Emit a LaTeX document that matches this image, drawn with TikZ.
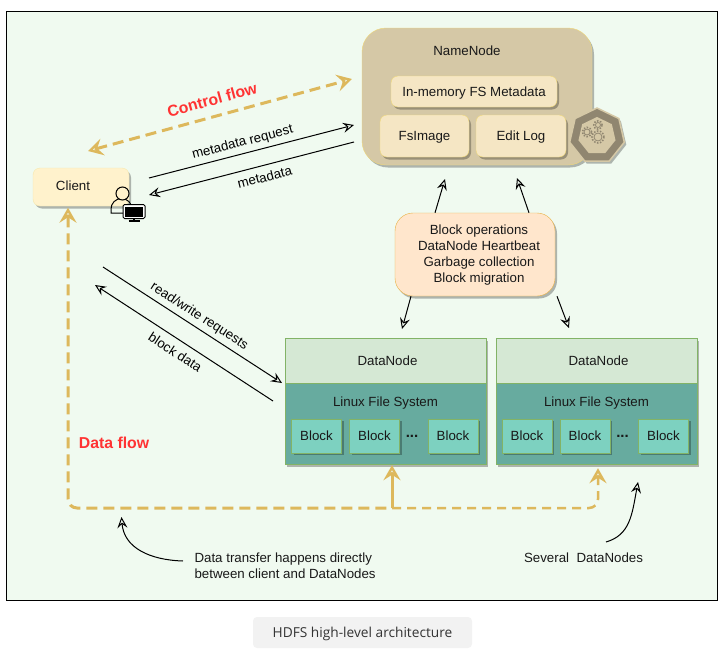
\documentclass[tikz,border=0pt]{standalone}
\usepackage{fontspec}
\setmainfont{Liberation Sans}
\newfontfamily\captionfont{Open Sans}
\usetikzlibrary{arrows.meta,shadows,shapes.geometric}
\definecolor{panelgreen}{HTML}{F0FAF0}
\definecolor{flowgold}{HTML}{DDB85C}
\definecolor{flowred}{HTML}{FF3333}
\definecolor{khaki}{HTML}{D5C8A6}
\definecolor{iconbrown}{HTML}{908670}
\definecolor{paleyellow}{HTML}{F0D878}
\definecolor{cream}{HTML}{F5E6C4}
\definecolor{clientfill}{HTML}{FFF2CC}
\definecolor{peach}{HTML}{FFE6CC}
\definecolor{peachline}{HTML}{E8B040}
\definecolor{leaf}{HTML}{82B366}
\definecolor{headfill}{HTML}{D5E8D4}
\definecolor{fsfill}{HTML}{67AB9F}
\definecolor{blockfill}{HTML}{7DD1C0}
\tikzstyle{softshadow}=[drop shadow={shadow xshift=2pt,shadow yshift=-2.5pt,fill=black,opacity=0.28}]
\tikzstyle{namebox}=[rectangle,rounded corners=7pt,draw=paleyellow,fill=cream,softshadow,inner sep=0pt]
\tikzstyle{greenbox}=[rectangle,draw=leaf,softshadow,inner sep=0pt]
\tikzstyle{blockbox}=[greenbox,fill=blockfill,minimum width=50pt,minimum height=34pt]
\tikzstyle{msgarrow}=[-{Stealth[open,length=11pt,width=10pt,inset=4pt]},line width=1pt,black]
\tikzstyle{flowarrow}=[line width=3pt,flowgold,dash pattern=on 11pt off 6pt]
\tikzstyle{plaintext}=[text height=,text depth=,align=left]
\tikzset{flowtip/.tip={Stealth[open,length=15pt,width=17pt,inset=5.5pt,line width=2.8pt]}}
\newcommand{\myblock}[3]{\node[blockbox] (#1) at (#2,#3) {Block};}
\newcommand{\datanode}[3]{
    \node[greenbox,fill=headfill,minimum width=201pt,minimum height=45pt] (#1) at (#2,360.5) {\hspace{4pt}DataNode};
    \node[greenbox,fill=fsfill,minimum width=201pt,minimum height=81pt] (#1fs) at (#2,423.5) {};
    \node (#1fstext) at (#2,402) {Linux File System};
    \myblock{#1a}{#3}{435.7}
    \myblock{#1b}{#3+58}{435.7}
    \node[font=\fontsize{15}{16}\selectfont\bfseries,plaintext] (#1dots) at (#3+95.5,436) {...};
    \myblock{#1c}{#3+136.5}{435.7}
}

\begin{document}
\begin{tikzpicture}[x=1pt,y=-1pt,font=\fontsize{13.3}{16}\selectfont,text=black!90,every node/.append style={text height=10pt,text depth=1pt}]
    \useasboundingbox (0,0) rectangle (724,659);
    \node[rectangle,draw=black,fill=panelgreen,minimum width=711pt,minimum height=589pt,inner sep=0pt] (panel) at (361.5,305.5) {};

    % name node with its icon
    \node[rectangle,rounded corners=24pt,draw=paleyellow,fill=khaki,minimum width=230pt,minimum height=137pt,softshadow] (namenode) at (477,96.5) {};
    \node (nametext) at (467,50.5) {NameNode};
    \node[namebox,minimum width=166pt,minimum height=31pt] (metadata) at (474,91.5) {In-memory FS Metadata};
    \node[namebox,minimum width=89pt,minimum height=42pt] (fsimage) at (424.5,136) {FsImage};
    \node[namebox,minimum width=90pt,minimum height=42pt] (editlog) at (521,136) {Edit Log};
    \node[regular polygon,regular polygon sides=7,draw=khaki,line width=1.5pt,fill=iconbrown,minimum size=56pt,inner sep=0pt,softshadow] (iconout) at (597,136) {};
    \node[regular polygon,regular polygon sides=7,fill=khaki,minimum size=38pt,inner sep=0pt] (iconin) at (597,136) {};
    \draw[iconbrown,line width=0.8pt] (587,132) circle (3pt) (598,125) circle (2.5pt) (598,137) circle (4pt);
    \draw[iconbrown,line width=1.5pt,dash pattern=on 1.5pt off 1.5pt] (587,132) circle (4.7pt) (598,125) circle (4.2pt) (598,137) circle (6pt);

    % client with its user icon
    \node[namebox,fill=clientfill,draw=paleyellow!60,minimum width=96pt,minimum height=38pt] (client) at (81,187) {};
    \node (clienttext) at (73,185.5) {Client};
    \draw[line width=1pt] (111,213) -- (111,209) arc[start angle=180,end angle=0,radius=10.5pt] -- (132,213) -- cycle;
    \node[circle,draw=black,line width=1pt,fill=clientfill,minimum size=13pt,inner sep=0pt,text height=,text depth=] (userhead) at (122.5,193.5) {};
    \node[rectangle,rounded corners=1.5pt,draw=black,line width=1pt,fill=white,minimum width=22pt,minimum height=14pt,inner sep=0pt,text height=,text depth=] (monitor) at (134,211.5) {};
    \node[rectangle,fill=black,minimum width=17.5pt,minimum height=10pt,inner sep=0pt,text height=,text depth=] (screen) at (134,211.5) {};
    \draw[line width=1.5pt] (134,218.5) -- (134,220.5) (128.5,221) -- (139.5,221);

    % process box and the two data nodes
    \node[rectangle,rounded corners=18pt,draw=peachline,fill=peach,minimum width=160pt,minimum height=83pt,softshadow,inner sep=0pt] (blockops) at (475,254.5) {};
    \node[plaintext,align=center] (blockopstext) at (479,255.5) {Block operations\\DataNode Heartbeat\\Garbage collection\\Block migration};
    \datanode{dna}{385.5}{316.5}
    \datanode{dnb}{596.5}{527}

    % free ends of the connectors
    \coordinate (ctrlstart) at (88,151);
    \coordinate (ctrlend) at (352,79);
    \coordinate (reqstart) at (149,178);
    \coordinate (reqend) at (354,125);
    \coordinate (metastart) at (354,142);
    \coordinate (metaend) at (149,195);
    \coordinate (rwstart) at (103,267);
    \coordinate (rwend) at (282,383);
    \coordinate (datastart) at (273,401);
    \coordinate (dataend) at (95,285);
    \coordinate (upa) at (445,179);
    \coordinate (upb) at (517,178);
    \coordinate (downa) at (402,329);
    \coordinate (downb) at (569,328);
    \coordinate (flowcorner) at (68,508);
    \coordinate (flowturn) at (392,508);
    \coordinate (flowright) at (598,508);
    \coordinate (noteone) at (121.5,517);
    \coordinate (notetwo) at (638,482);
    \coordinate (noteonestart) at (183,561);
    \coordinate (notetwostart) at (606,542);

    % dashed flows
    \draw[flowarrow,flowtip-flowtip] (ctrlstart) -- node[pos=0.487,above=5.5pt,sloped,text=flowred,font=\fontsize{15.8}{18}\selectfont\bfseries] (ctrllabel) {Control flow} (ctrlend);
    \draw[flowarrow,flowtip-,rounded corners=9pt] ([xshift=-13pt,yshift=-1.5pt]client.south) -- (flowcorner) -- (flowturn);
    \draw[line width=3pt,flowgold,-flowtip] (flowturn) -- ([xshift=6.5pt,yshift=-1pt]dnafs.south);
    \draw[flowarrow,-flowtip,rounded corners=9pt,line width=2.5pt,dash pattern=on 9pt off 6pt] (flowturn) -- (flowright) -- ([xshift=1.5pt,yshift=-4pt]dnbfs.south);
    \node[text=flowred,font=\fontsize{15.8}{18}\selectfont\bfseries] (dataflow) at (114,443.5) {Data flow};

    % messages
    \draw[msgarrow] (reqstart) -- node[pos=0.47,above=2.5pt,sloped] (reqlabel) {metadata request} (reqend);
    \draw[msgarrow] (metastart) -- node[pos=0.45,below=2.5pt,sloped] (metalabel) {metadata} (metaend);
    \draw[msgarrow] (rwstart) -- node[pos=0.505,above=2.5pt,sloped] (rwlabel) {read/write requests} (rwend);
    \draw[msgarrow] (datastart) -- node[pos=0.51,below=3.5pt,sloped] (datalabel) {block data} (dataend);
    \draw[msgarrow] ([xshift=-40pt]blockops.north) -- (upa);
    \draw[msgarrow] ([xshift=54pt]blockops.north) -- (upb);
    \draw[msgarrow] ([xshift=-64pt]blockops.south) -- (downa);
    \draw[msgarrow] ([xshift=82pt]blockops.south) -- (downb);

    % notes
    \node[anchor=west,plaintext] (dnote) at (191,566) {Data transfer happens directly\\between client and DataNodes};
    \node[anchor=west] (snote) at (520.5,557.5) {Several\ \ DataNodes};
    \draw[msgarrow] (noteonestart) .. controls (150,560) and (124,548) .. (noteone);
    \draw[msgarrow] (notetwostart) .. controls (630,535) and (632,515) .. (notetwo);

    % caption
    \node[rectangle,rounded corners=4pt,fill=black!5,minimum width=219pt,minimum height=31pt,inner sep=0pt,font=\captionfont\fontsize{13.7}{15}\selectfont,text=black!80] (caption) at (362.5,632.5) {HDFS high-level architecture};
\end{tikzpicture}
\end{document}
